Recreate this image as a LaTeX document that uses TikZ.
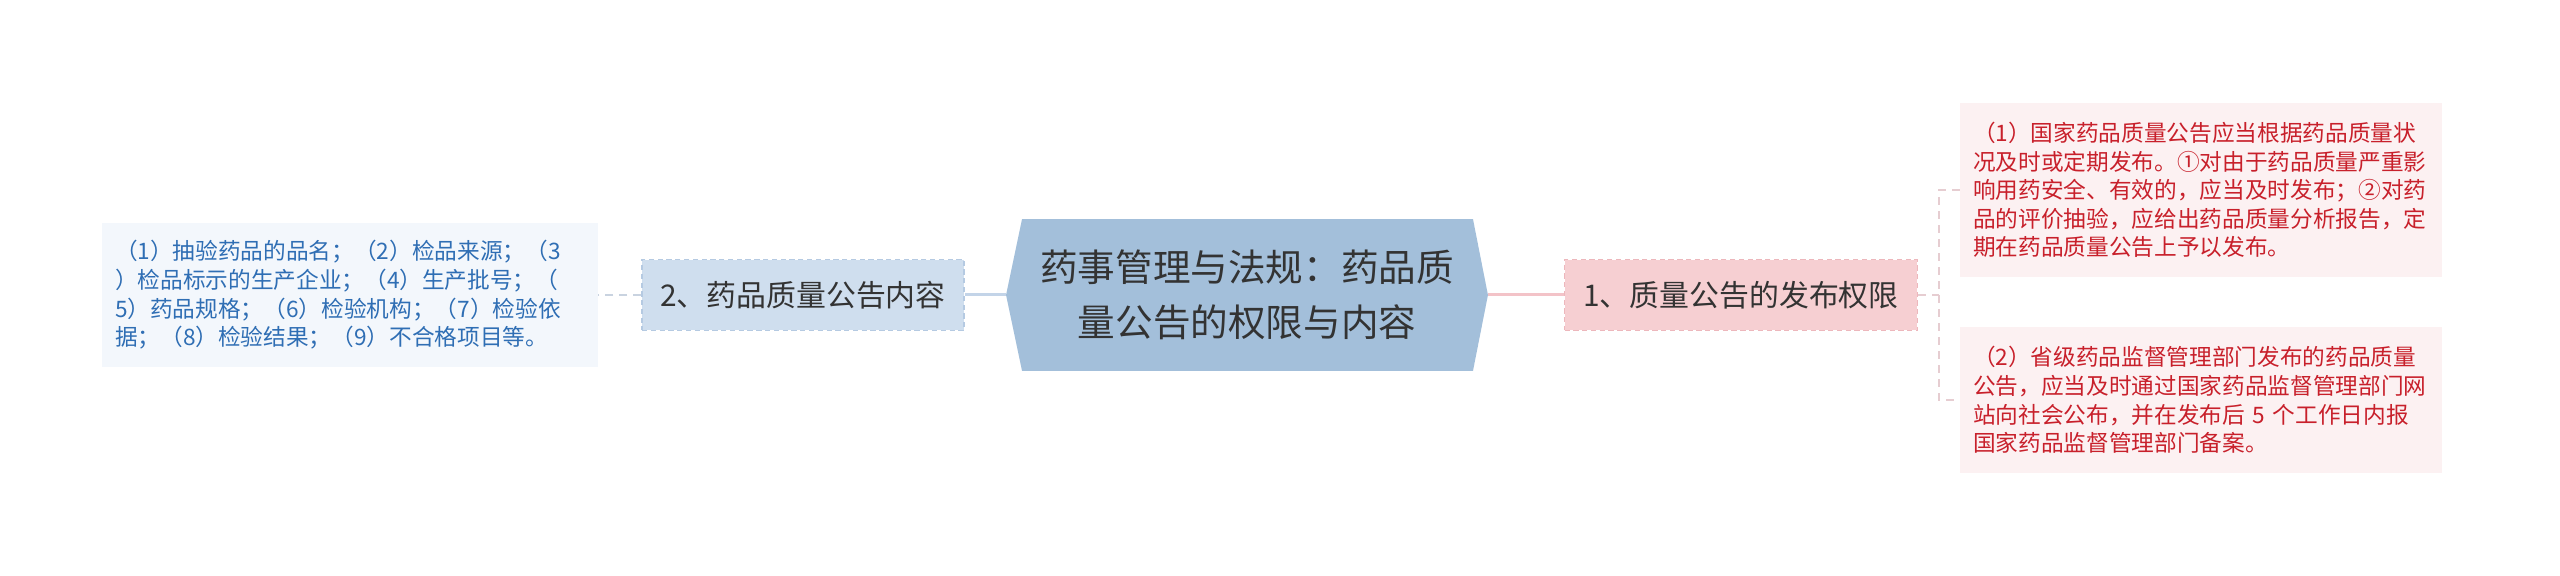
\documentclass[tikz,border=0pt]{standalone}
\usepackage{fontspec}
\setmainfont{Noto Sans CJK SC}
\usepackage{xcolor}
\usepackage{tikz}
\usetikzlibrary{shapes, arrows, positioning}

\definecolor{rootblue}{HTML}{A3BFDA}
\definecolor{rootline}{HTML}{C3D4E8}
\definecolor{rootpink}{HTML}{F3C3C8}
\definecolor{midblue}{HTML}{CFDEEE}
\definecolor{midblueborder}{HTML}{B5CAE2}
\definecolor{midpink}{HTML}{F6CFD2}
\definecolor{midpinkborder}{HTML}{EDB7BC}
\definecolor{leafblue}{HTML}{F3F7FC}
\definecolor{leafbluetext}{HTML}{2F6EB4}
\definecolor{leafpink}{HTML}{FCF1F2}
\definecolor{leafpinktext}{HTML}{C8202B}
\definecolor{textgray}{HTML}{333333}
\definecolor{dashblue}{HTML}{C9D3E0}
\definecolor{dashpink}{HTML}{E6CDD1}

\begin{document}
\begin{tikzpicture}[x=0.02cm, y=0.02cm,
        roothex/.style={minimum width=9.64cm, minimum height=3.04cm, inner sep=0pt, align=center,
            text=textgray, font=\fontsize{21.4pt}{31pt}\selectfont,
            path picture={\fill[rootblue] (path picture bounding box.west)
                -- ([xshift=0.32cm]path picture bounding box.north west)
                -- ([xshift=-0.3cm]path picture bounding box.north east)
                -- (path picture bounding box.east)
                -- ([xshift=-0.3cm]path picture bounding box.south east)
                -- ([xshift=0.32cm]path picture bounding box.south west) -- cycle;}},
        midbox/.style={minimum height=1.42cm, inner sep=0pt, text=textgray,
            font=\fontsize{17pt}{20pt}\selectfont, line width=0.8pt, dash pattern=on 3pt off 2pt},
        leafbox/.style={inner xsep=0.26cm, inner ysep=0pt, align=left,
            font=\fontsize{12.9pt}{16.3pt}\selectfont},
        dashline/.style={line width=0.04cm, dash pattern=on 0.16cm off 0.12cm}]
        \useasboundingbox (0,0) rectangle (2560,575);

        \node[roothex] (root) at (1247,280) {药事管理与法规：药品质\\量公告的权限与内容};

        \node[midbox, fill=midblue, draw=midblueborder, minimum width=6.44cm] (mid2) at (803,280) {2、药品质量公告内容};
        \node[midbox, fill=midpink, draw=midpinkborder, minimum width=7.06cm] (mid1) at (1741,280) {1、质量公告的发布权限};

        \node[leafbox, fill=leafblue, text=leafbluetext, text width=9.4cm, minimum height=2.9cm] (leafa) at (350,280)
            {（1）抽验药品的品名；（2）检品来源；（3\\）检品标示的生产企业；（4）生产批号；（\\5）药品规格；（6）检验机构；（7）检验依\\据；（8）检验结果；（9）不合格项目等。};
        \node[leafbox, fill=leafpink, text=leafpinktext, text width=9.12cm, minimum height=3.5cm] (leafb) at (2201,385)
            {（1）国家药品质量公告应当根据药品质量状\\况及时或定期发布。①对由于药品质量严重影\\响用药安全、有效的，应当及时发布；②对药\\品的评价抽验，应给出药品质量分析报告，定\\期在药品质量公告上予以发布。};
        \node[leafbox, fill=leafpink, text=leafpinktext, text width=9.12cm, minimum height=2.92cm] (leafc) at (2201,175)
            {（2）省级药品监督管理部门发布的药品质量\\公告，应当及时通过国家药品监督管理部门网\\站向社会公布，并在发布后 5 个工作日内报\\国家药品监督管理部门备案。};

        \draw[line width=0.06cm, rootline] (root.west) -- (mid2.east);
        \draw[line width=0.06cm, rootpink] (root.east) -- (mid1.west);
        \draw[dashline, dashblue] (mid2.west) -- (leafa.east);

        \coordinate (brk) at (1939,280);
        \draw[dashline, dashpink] (mid1.east) -- (brk);
        \draw[dashline, dashpink] (leafb.west) -| (brk) |- (leafc.west);
    \end{tikzpicture}
\end{document}
